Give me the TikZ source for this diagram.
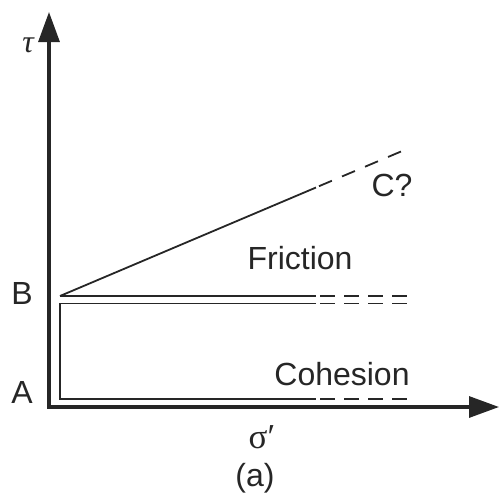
\documentclass[tikz,border=0pt]{standalone}
\usepackage{fontspec}
\setmainfont{Liberation Sans}
\newfontfamily\serifit{Liberation Serif}
\usetikzlibrary{arrows.meta}
\definecolor{ink}{HTML}{262626}
\tikzset{
  axis/.style={draw=ink,line width=3.2pt,-{Triangle[length=30pt,width=21pt]}},
  thin/.style={draw=ink,line width=1.8pt},
  dsh/.style={draw=ink,line width=1.8pt,dash pattern=on 15pt off 9pt},
  dshb/.style={draw=ink,line width=1.8pt,dash pattern=on 14pt off 11pt},
  lbl/.style={font=\fontsize{32}{36}\selectfont,text=ink,inner sep=0pt}
}
\begin{document}
\begin{tikzpicture}[x=1pt,y=-1pt]
\useasboundingbox (0,0) rectangle (499,499);
\coordinate (O) at (49,407);
\coordinate (Ytop) at (49,12);
\coordinate (Xend) at (499,407);
\draw[axis] (49,408.6) -- (Ytop);
\draw[axis] (47.4,407) -- (Xend);
% friction line
\coordinate (B0) at (60,296);
\coordinate (B1) at (316,296);
\coordinate (B2) at (408,296);
\coordinate (T1) at (316,187.5);
\coordinate (T1b) at (319,186.2);
\coordinate (T2) at (401,151.5);
\draw[thin] (B0) -- (T1);
\draw[dshb] (T1b) -- (T2);
\draw[thin] (B0) -- (B1);
\draw[dsh] ([xshift=4pt]B1) -- (B2);
% inner rectangle
\coordinate (R0) at (60,303.5);
\coordinate (R1) at (316,303.5);
\coordinate (R2) at (408,303.5);
\coordinate (R3) at (60,399);
\coordinate (R4) at (316,399);
\coordinate (R5) at (408,399);
\draw[thin] (R1) -- (R0) -- (R3) -- (R4);
\draw[dsh] ([xshift=4pt]R1) -- (R2);
\draw[dsh] ([xshift=4pt]R4) -- (R5);
% labels
\node[lbl] (tau) at (28,45) {\serifit\itshape τ};
\node[lbl] (B) at (22,293) {B};
\node[lbl] (A) at (22,392) {A};
\node[lbl,font=\fontsize{35}{38}\selectfont] (sig) at (262,437) {\serifit σ′};
\node[lbl] (cap) at (255,478) {(a)};
\node[lbl] (fr) at (300,258) {Friction};
\node[lbl] (C) at (392,185) {C?};
\node[lbl] (co) at (342,374) {Cohesion};
\end{tikzpicture}
\end{document}
